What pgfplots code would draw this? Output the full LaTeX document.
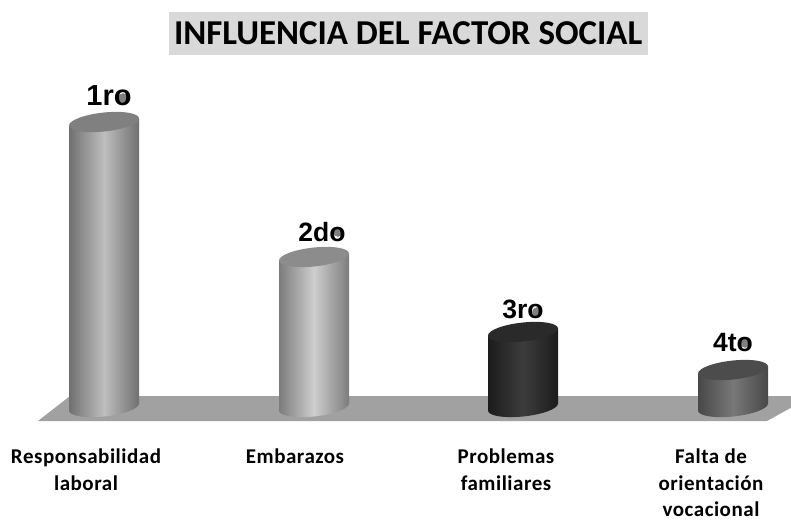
\documentclass[border=0pt]{standalone}
\usepackage{pgfplots}
\pgfplotsset{compat=1.18}
\usepackage{fontspec}
\setmainfont{Carlito}
\newfontfamily\lab{Liberation Sans}[BoldFont={Liberation Sans Bold}]
\definecolor{cA}{HTML}{707070}\definecolor{mA}{HTML}{BEBEBE}\definecolor{tA}{HTML}{808080}
\definecolor{cB}{HTML}{7C7C7C}\definecolor{mB}{HTML}{CECECE}\definecolor{tB}{HTML}{8C8C8C}
\definecolor{cC}{HTML}{1C1C1C}\definecolor{mC}{HTML}{3C3C3C}\definecolor{tC}{HTML}{2A2A2A}
\definecolor{cD}{HTML}{484848}\definecolor{mD}{HTML}{787878}\definecolor{tD}{HTML}{4C4C4C}
\newcommand\mkcyl[1]{%
  \pgfdeclarehorizontalshading{sh#1}{100bp}{color(0bp)=(c#1);color(25bp)=(c#1);color(50bp)=(m#1);color(75bp)=(c#1);color(100bp)=(c#1)}%
  \pgfdeclareplotmark{bot#1}{\pgfpathellipse{\pgfpointorigin}{\pgfpoint{35pt}{3.5pt}}{\pgfpoint{0pt}{9.5pt}}\pgfshadepath{sh#1}{0}\pgfusepath{discard}}%
  \pgfdeclareplotmark{top#1}{\pgfpathellipse{\pgfpointorigin}{\pgfpoint{35pt}{3.5pt}}{\pgfpoint{0pt}{9.5pt}}\pgfsetfillcolor{t#1}\pgfusepath{fill}}%
}
\mkcyl{A}\mkcyl{B}\mkcyl{C}\mkcyl{D}
\begin{document}
\begin{tikzpicture}
\begin{axis}[
  scale only axis, width=791pt, height=523pt,
  xmin=0, xmax=791, ymin=-116, ymax=407,
  clip mode=individual,
  axis line style={draw=none}, tick style={draw=none},
  ytick=\empty, xtick={86,295,506,711},
  xticklabels={Responsabilidad\\laboral,Embarazos,Problemas\\familiares,Falta de\\orientación\\vocacional},
  xticklabel style={align=center, yshift=74pt, font=\fontsize{21}{26.5}\selectfont\bfseries\addfontfeature{LetterSpace=2.5}, anchor=north, inner sep=0pt},
  title={INFLUENCIA DEL FACTOR SOCIAL},
  title style={at={(axis description cs:0.516,0.9365)}, anchor=center, yshift=-6pt, fill=black!15, text depth=0pt,
    minimum width=479pt, minimum height=43pt, inner sep=0pt, font=\fontsize{34.9}{40}\selectfont\bfseries},
]
% floor
\addplot[draw=none, fill=black!37, forget plot] coordinates {(38,-14) (70,11) (812,11) (767,-14)} -- cycle;
% bottom caps
\addplot[only marks, mark=botA] coordinates {(104,0)};
\addplot[only marks, mark=botB] coordinates {(314,0)};
\addplot[only marks, mark=botC] coordinates {(523,0)};
\addplot[only marks, mark=botD] coordinates {(733,0)};
% bodies
\addplot[draw=none,left color=cA,right color=cA,middle color=mA] coordinates {(69,-3.5) (69,281.5) (139,288.5) (139,3.5)} -- cycle;
\addplot[draw=none,left color=cB,right color=cB,middle color=mB] coordinates {(279,-3.5) (279,146.5) (349,153.5) (349,3.5)} -- cycle;
\addplot[draw=none,left color=cC,right color=cC,middle color=mC] coordinates {(488,-3.5) (488,71.5) (558,78.5) (558,3.5)} -- cycle;
\addplot[draw=none,left color=cD,right color=cD,middle color=mD] coordinates {(698,-3.5) (698,33.5) (768,40.5) (768,3.5)} -- cycle;
% top caps
\addplot[only marks, mark=topA] coordinates {(104,285)};
\addplot[only marks, mark=topB] coordinates {(314,150)};
\addplot[only marks, mark=topC] coordinates {(523,75)};
\addplot[only marks, mark=topD] coordinates {(733,37)};
% grey counters of the labels
\addplot[only marks, mark=*, mark size=4.5pt, color=black!50, draw=none] coordinates {(123,309) (338,175) (537,95) (745,64)};
\node[anchor=base, inner sep=0pt, font=\lab\bfseries\fontsize{29}{29}\selectfont] at (axis cs:109,301) {1ro};
\node[anchor=base, inner sep=0pt, font=\lab\bfseries\fontsize{26.5}{26.5}\selectfont] at (axis cs:322,166) {2do};
\node[anchor=base, inner sep=0pt, font=\lab\bfseries\fontsize{26.5}{26.5}\selectfont] at (axis cs:523,89) {3ro};
\node[anchor=base, inner sep=0pt, font=\lab\bfseries\fontsize{26.5}{26.5}\selectfont] at (axis cs:733,56) {4to};
\end{axis}
\end{tikzpicture}
\end{document}
